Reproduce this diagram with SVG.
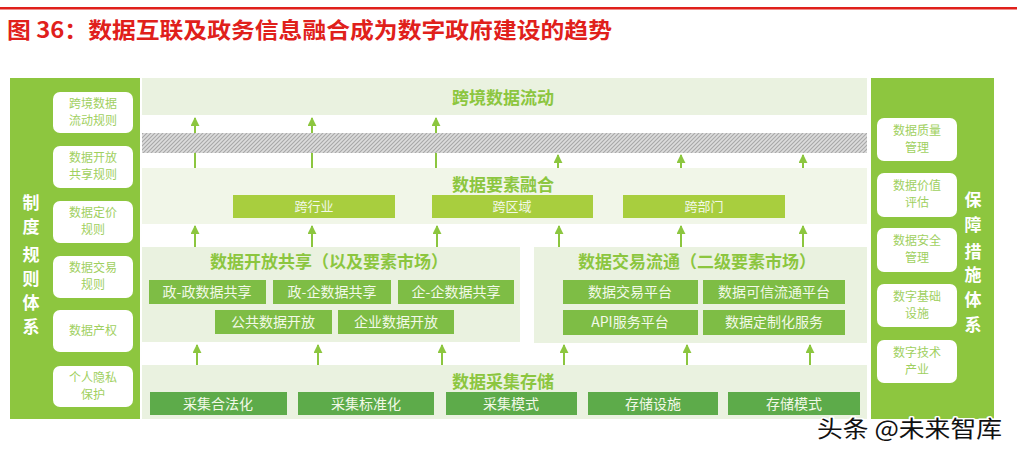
<svg xmlns="http://www.w3.org/2000/svg" width="1017" height="454" viewBox="0 0 1017 454">
<defs>
<style>
.cjk{font-family:"Noto Sans CJK SC","Noto Sans",sans-serif}
.panel{fill:#8dc63f}
.wbox{fill:#ffffff}
.wtxt{font-family:"Noto Sans CJK SC",sans-serif;font-size:12px;fill:#9fd05f;text-anchor:middle}
.vtxt{font-family:"Noto Sans CJK SC",sans-serif;font-size:17px;font-weight:bold;fill:#ffffff;text-anchor:middle}
.band{fill:#eaf2e0}
.band2{fill:#f1f6e8}
.btitle{font-family:"Noto Sans CJK SC",sans-serif;font-size:17px;font-weight:bold;fill:#8cc63f;text-anchor:middle}
.lime{fill:#a8ce3e}
.mid{fill:#7ebd45}
.dark{fill:#5dab4a}
.itxt{font-family:"Noto Sans CJK SC",sans-serif;font-size:14px;fill:#f2f9e8;text-anchor:middle}
.ltxt{font-family:"Noto Sans CJK SC",sans-serif;font-size:13px;fill:#f2f9e8;text-anchor:middle}
.arr{stroke:#8cc63f;stroke-width:2;fill:none;marker-end:url(#ah)}
</style>
<marker id="ah" viewBox="0 0 10 10" refX="9" refY="5" markerWidth="4.5" markerHeight="4.5" orient="auto" markerUnits="strokeWidth">
<path d="M0,0 L10,5 L0,10 z" fill="#8cc63f"/>
</marker>
<pattern id="hatch" width="4" height="4" patternUnits="userSpaceOnUse">
<rect width="4" height="4" fill="#dcdcdc"/>
<path d="M-1,1 l2,-2 M0,4 l4,-4 M3,5 l2,-2" stroke="#a8a8a8" stroke-width="1.1"/>
</pattern>
</defs>
<rect width="1017" height="454" fill="#ffffff"/>
<rect x="0" y="7" width="1017" height="2.5" fill="#e0201b"/>
<text x="7" y="38" class="cjk" font-size="22" font-weight="bold" fill="#e0201b" textLength="605" lengthAdjust="spacingAndGlyphs">图 36：数据互联及政务信息融合成为数字政府建设的趋势</text>

<!-- Left panel -->
<g id="rules">
<rect class="panel" x="10" y="78" width="130" height="341"/>
<text class="vtxt" x="31" y="209">制</text>
<text class="vtxt" x="31" y="233">度</text>
<text class="vtxt" x="31" y="261">规</text>
<text class="vtxt" x="31" y="285">则</text>
<text class="vtxt" x="31" y="309">体</text>
<text class="vtxt" x="31" y="333">系</text>
</g>
<g id="rule1"><rect class="wbox" x="53" y="92" width="80" height="41" rx="7"/><text class="wtxt" x="93" y="108">跨境数据</text><text class="wtxt" x="93" y="125">流动规则</text></g>
<g id="rule2"><rect class="wbox" x="53" y="146" width="80" height="42" rx="7"/><text class="wtxt" x="93" y="162">数据开放</text><text class="wtxt" x="93" y="179">共享规则</text></g>
<g id="rule3"><rect class="wbox" x="53" y="201" width="80" height="42" rx="7"/><text class="wtxt" x="93" y="217">数据定价</text><text class="wtxt" x="93" y="234">规则</text></g>
<g id="rule4"><rect class="wbox" x="53" y="256" width="80" height="42" rx="7"/><text class="wtxt" x="93" y="272">数据交易</text><text class="wtxt" x="93" y="289">规则</text></g>
<g id="rule5"><rect class="wbox" x="53" y="310" width="80" height="42" rx="7"/><text class="wtxt" x="93" y="335">数据产权</text></g>
<g id="rule6"><rect class="wbox" x="53" y="366" width="80" height="41" rx="7"/><text class="wtxt" x="93" y="382">个人隐私</text><text class="wtxt" x="93" y="399">保护</text></g>

<!-- Right panel -->
<g id="guarantee">
<rect class="panel" x="871" y="78" width="123" height="341"/>
<text class="vtxt" x="973" y="206">保</text>
<text class="vtxt" x="973" y="231">障</text>
<text class="vtxt" x="973" y="258">措</text>
<text class="vtxt" x="973" y="281">施</text>
<text class="vtxt" x="973" y="306">体</text>
<text class="vtxt" x="973" y="331">系</text>
</g>
<g id="g1"><rect class="wbox" x="877" y="118" width="80" height="43" rx="7"/><text class="wtxt" x="917" y="135">数据质量</text><text class="wtxt" x="917" y="152">管理</text></g>
<g id="g2"><rect class="wbox" x="877" y="173" width="80" height="44" rx="7"/><text class="wtxt" x="917" y="190">数据价值</text><text class="wtxt" x="917" y="207">评估</text></g>
<g id="g3"><rect class="wbox" x="877" y="228" width="80" height="44" rx="7"/><text class="wtxt" x="917" y="245">数据安全</text><text class="wtxt" x="917" y="262">管理</text></g>
<g id="g4"><rect class="wbox" x="877" y="284" width="80" height="43" rx="7"/><text class="wtxt" x="917" y="301">数字基础</text><text class="wtxt" x="917" y="318">设施</text></g>
<g id="g5"><rect class="wbox" x="877" y="340" width="80" height="43" rx="7"/><text class="wtxt" x="917" y="357">数字技术</text><text class="wtxt" x="917" y="374">产业</text></g>

<!-- Layer 1 -->
<g id="crossborder">
<rect class="band" x="142" y="78" width="725" height="37"/>
<text class="btitle" x="503" y="104">跨境数据流动</text>
</g>

<!-- Layer 2 -->
<g id="fusion">
<rect class="band2" x="142" y="168" width="725" height="56"/>
<text class="btitle" x="503" y="191">数据要素融合</text>
<rect class="lime" x="233" y="195" width="162" height="23"/>
<text class="ltxt" x="314" y="211">跨行业</text>
<rect class="lime" x="432" y="195" width="161" height="23"/>
<text class="ltxt" x="512" y="211">跨区域</text>
<rect class="lime" x="623" y="195" width="162" height="23"/>
<text class="ltxt" x="704" y="211">跨部门</text>
</g>

<!-- Layer 3 left -->
<g id="open-share">
<rect class="band" x="142" y="247" width="378" height="95"/>
<text class="btitle" x="329" y="268">数据开放共享（以及要素市场）</text>
<rect class="mid" x="149" y="280" width="117" height="24"/><text class="itxt" x="207" y="297">政-政数据共享</text>
<rect class="mid" x="273" y="280" width="118" height="24"/><text class="itxt" x="332" y="297">政-企数据共享</text>
<rect class="mid" x="398" y="280" width="116" height="24"/><text class="itxt" x="456" y="297">企-企数据共享</text>
<rect class="mid" x="215" y="310" width="117" height="24"/><text class="itxt" x="273" y="327">公共数据开放</text>
<rect class="mid" x="338" y="310" width="116" height="24"/><text class="itxt" x="396" y="327">企业数据开放</text>
</g>

<!-- Layer 3 right -->
<g id="trade">
<rect class="band" x="534" y="247" width="333" height="96"/>
<text class="btitle" x="697" y="268">数据交易流通（二级要素市场）</text>
<rect class="mid" x="563" y="280" width="135" height="24"/><text class="itxt" x="630" y="297">数据交易平台</text>
<rect class="mid" x="703" y="280" width="142" height="24"/><text class="itxt" x="774" y="297">数据可信流通平台</text>
<rect class="mid" x="563" y="310" width="135" height="25"/><text class="itxt" x="630" y="327">API服务平台</text>
<rect class="mid" x="703" y="310" width="142" height="25"/><text class="itxt" x="774" y="327">数据定制化服务</text>
</g>

<!-- Layer 4 -->
<g id="collect">
<rect class="band" x="142" y="365" width="725" height="54"/>
<text class="btitle" x="503" y="388">数据采集存储</text>
<rect class="dark" x="150" y="392" width="137" height="23"/><text class="itxt" x="218" y="409">采集合法化</text>
<rect class="dark" x="298" y="392" width="136" height="23"/><text class="itxt" x="366" y="409">采集标准化</text>
<rect class="dark" x="446" y="392" width="131" height="23"/><text class="itxt" x="511" y="409">采集模式</text>
<rect class="dark" x="588" y="392" width="130" height="23"/><text class="itxt" x="653" y="409">存储设施</text>
<rect class="dark" x="728" y="392" width="132" height="23"/><text class="itxt" x="794" y="409">存储模式</text>
</g>

<!-- Connectors -->
<g id="connectors">
<line class="arr" x1="195" y1="168" x2="195" y2="118"/>
<line class="arr" x1="312" y1="168" x2="312" y2="118"/>
<line class="arr" x1="436" y1="168" x2="436" y2="118"/>
<line class="arr" x1="558" y1="168" x2="558" y2="155"/>
<line class="arr" x1="681" y1="168" x2="681" y2="155"/>
<line class="arr" x1="803" y1="168" x2="803" y2="155"/>
<line class="arr" x1="195" y1="247" x2="195" y2="226"/>
<line class="arr" x1="312" y1="247" x2="312" y2="226"/>
<line class="arr" x1="437" y1="247" x2="437" y2="226"/>
<line class="arr" x1="559" y1="247" x2="559" y2="226"/>
<line class="arr" x1="681" y1="247" x2="681" y2="226"/>
<line class="arr" x1="803" y1="247" x2="803" y2="226"/>
<line class="arr" x1="197" y1="365" x2="197" y2="345"/>
<line class="arr" x1="318" y1="365" x2="318" y2="345"/>
<line class="arr" x1="442" y1="365" x2="442" y2="345"/>
<line class="arr" x1="564" y1="365" x2="564" y2="345"/>
<line class="arr" x1="687" y1="365" x2="687" y2="345"/>
<line class="arr" x1="810" y1="365" x2="810" y2="345"/>
</g>

<!-- Hatched barrier -->
<g id="barrier">
<rect x="142" y="133" width="725" height="20" fill="url(#hatch)"/>
</g>

<text x="817" y="437" class="cjk" font-size="23" fill="#111111" stroke="#ffffff" stroke-width="3" paint-order="stroke" stroke-linejoin="round" textLength="185" lengthAdjust="spacingAndGlyphs">头条 @未来智库</text>
</svg>
